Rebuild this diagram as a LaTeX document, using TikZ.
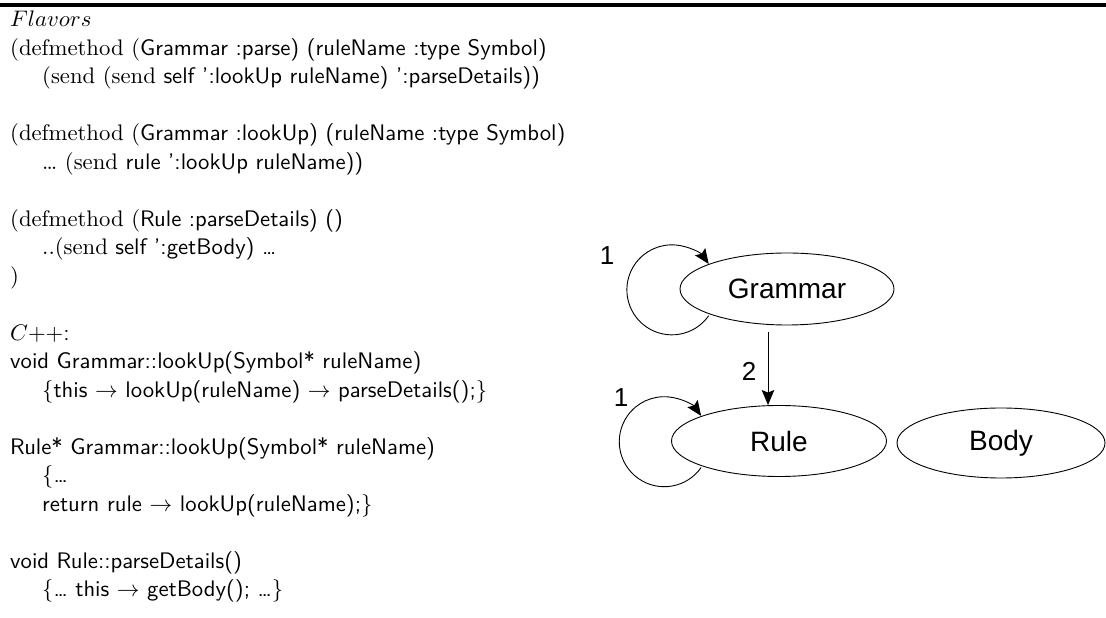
\documentclass[tikz,border=0pt]{standalone}
\usepackage{fontspec}
\usepackage{graphicx}
\newfontfamily\helv{Liberation Sans}
\usetikzlibrary{arrows.meta,shapes.geometric}
\newcommand\codeln[1]{\scalebox{2.27}[2.25]{#1}}
\begin{document}
\begin{tikzpicture}[x=1pt,y=1pt,
  code/.style={anchor=base west, inner sep=0pt, font=\fontsize{10}{12}\selectfont\sffamily},
  state/.style={draw, ellipse, line width=0.9pt, inner sep=0pt, font=\helv\fontsize{28}{30}\selectfont},
  lbl/.style={font=\helv\fontsize{26}{28}\selectfont, inner sep=0pt},
  arr/.style={-{Stealth[length=15pt,width=12.5pt,inset=2.5pt]}, line width=0.9pt}]
\useasboundingbox (0,0) rectangle (1106,618);
\draw[line width=3.4pt] (0,613) -- (1106,613);
% code column
\node[code] (l0)  at (10,591.0) {\codeln{$Flavors$}};
\node[code] (l1)  at (10,562.5) {\codeln{\textrm{(defmethod (}Grammar :parse) (ruleName :type Symbol)}};
\node[code] (l2)  at (42,534.0) {\codeln{\textrm{(send (send }self ':lookUp ruleName) ':parseDetails))}};
\node[code] (l4)  at (10,477.0) {\codeln{\textrm{(defmethod (}Grammar :lookUp) (ruleName :type Symbol)}};
\node[code] (l5)  at (42,448.5) {\codeln{\textrm{\ldots\ (send }rule ':lookUp ruleName))}};
\node[code] (l7)  at (10,391.5) {\codeln{\textrm{(defmethod (}Rule :parseDetails) ()}};
\node[code] (l8)  at (42,363.0) {\codeln{\textrm{..(send }self ':getBody) \ldots}};
\node[code] (l9)  at (10,334.5) {\codeln{\textrm{)}}};
\node[code] (l11) at (10,277.5) {\codeln{$C{+}{+}$:}};
\node[code] (l12) at (10,249.0) {\codeln{void Grammar::lookUp(Symbol* ruleName)}};
\node[code] (l13) at (42,220.5) {\codeln{$\{$this $\rightarrow$ lookUp(ruleName) $\rightarrow$ parseDetails();$\}$}};
\node[code] (l15) at (10,163.5) {\codeln{Rule* Grammar::lookUp(Symbol* ruleName)}};
\node[code] (l16) at (42,135.0) {\codeln{$\{$\ldots}};
\node[code] (l17) at (42,106.5) {\codeln{return rule $\rightarrow$ lookUp(ruleName);$\}$}};
\node[code] (l19) at (10,49.5)  {\codeln{void Rule::parseDetails()}};
\node[code] (l20) at (42,21.0)  {\codeln{$\{$\ldots\ this $\rightarrow$ getBody(); \ldots$\}$}};
% diagram
\node[state, minimum width=214pt, minimum height=72pt] (G) at (787,329) {Grammar};
\node[state, minimum width=215pt, minimum height=71pt] (R) at (779,177) {Rule};
\node[state, minimum width=208pt, minimum height=70pt] (B) at (1001,175) {Body};
\draw[arr] ([xshift=-19pt,yshift=-7pt]G.south) -- ([xshift=-11pt]R.north);
\node[lbl] (n2) at (749,247) {2};
\draw[arr] ([xshift=-5pt]G.200) arc[start angle=-35,end angle=-325,radius=45];
\node[lbl] (n1g) at (607,362) {1};
\draw[arr] ([xshift=-5pt]R.200) arc[start angle=-35,end angle=-325,radius=45];
\node[lbl] (n1r) at (621,220) {1};
\end{tikzpicture}
\end{document}
